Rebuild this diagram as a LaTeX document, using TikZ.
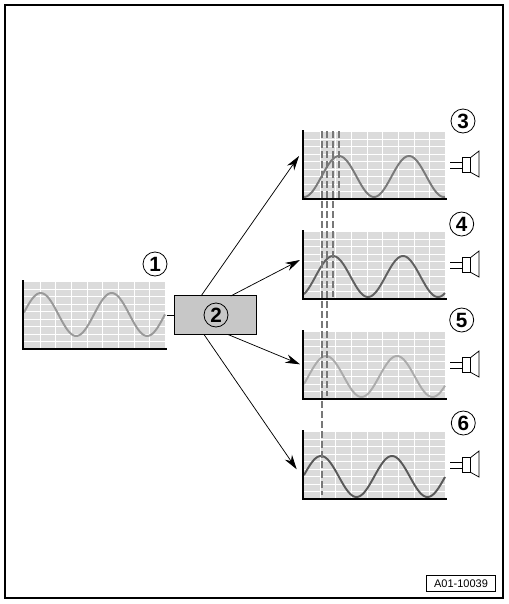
\documentclass[tikz,border=0pt]{standalone}
\usepackage{fontspec}
\setmainfont{Liberation Sans}
\usetikzlibrary{arrows.meta}
\definecolor{gridgray}{gray}{0.86}
\definecolor{boxgray}{gray}{0.78}
\definecolor{dashgray}{gray}{0.47}
\tikzset{
  num/.style={draw, circle, line width=0.6pt, inner sep=0pt, minimum size=18pt, font=\bfseries\fontsize{15.5}{15.5}\selectfont},
  arr/.style={-{Stealth[length=11pt,width=6.5pt]}, line width=0.55pt},
  wave/.style={line width=1.45pt, line join=round},
  spk/.style={line width=0.55pt, line join=miter}
}
\begin{document}
\begin{tikzpicture}[x=0.75pt, y=-0.75pt]
  \useasboundingbox (0,0) rectangle (508,604);
  \draw[line width=1.5pt] (5,5) rectangle (503,598);

  % the five charts
  \foreach \ox/\oy/\peak/\per/\midy/\amp/\shade in {23/280/40.7/71/314.5/21.5/40, 303/130/339/70/176.5/20.5/52, 303/230/333/70/276.5/20.5/62, 303/330/326/71/376.5/20.5/33, 303/430/321/71/476.5/20.5/65} {
    \fill[gridgray] (\ox+1,\oy+2) rectangle (\ox+142,\oy+68);
    \foreach \k in {0,...,7} {
      \draw[white, line width=0.7pt] (\ox+17+15.7*\k,\oy+2) -- (\ox+17+15.7*\k,\oy+68);
      \draw[white, line width=0.7pt] (\ox+1,\oy+9.3+7.5*\k) -- (\ox+142,\oy+9.3+7.5*\k);
    }
    \draw[black!\shade, wave] plot[domain=\ox+1:\ox+142, samples=90, smooth] (\x,{\midy-\amp*cos(360/\per*(\x-\peak))});
    \draw[line width=1.5pt] (\ox,\oy) -- (\ox,\oy+69) -- (\ox+144,\oy+69);
  }

  % dashed marks
  \foreach \dx/\dy in {322/495, 326.7/396, 332.7/297, 339/199} {
    \draw[dashgray, line width=1.4pt, dash pattern=on 5.5pt off 2pt] (\dx,131) -- (\dx,\dy);
  }

  % speakers
  \foreach \sy in {165,265,365,465} {
    \draw[spk] (450,\sy-3) -- (462,\sy-3);
    \draw[spk] (450,\sy+3) -- (462,\sy+3);
    \draw[spk] (462,\sy-8) rectangle (470,\sy+7);
    \draw[spk] (470,\sy-7) -- (479,\sy-14) -- (479,\sy+12) -- (470,\sy+7);
  }

  \node[draw, fill=boxgray, line width=0.6pt, minimum width=61.8pt, minimum height=28.7pt, inner sep=0pt] (box) at (215.5,315) {};
  \node[num] (n1) at (155,264) {1};
  \node[num] (n2) at (216,315) {2};
  \node[num] (n3) at (463,121) {3};
  \node[num] (n4) at (461.7,224) {4};
  \node[num] (n5) at (461.7,320) {5};
  \node[num] (n6) at (463.3,423) {6};

  \coordinate (wave1) at (166.7,315);
  \coordinate (in3) at (299,156);
  \coordinate (in4) at (300,260);
  \coordinate (in5) at (300,364.3);
  \coordinate (in6) at (296.7,469.3);
  \coordinate (out3) at (201,296);
  \coordinate (out4) at (230.7,296);
  \coordinate (out5) at (228,334.5);
  \coordinate (out6) at (204,334.5);
  \draw[line width=0.55pt] (wave1) -- (box.west |- wave1);
  \draw[arr] (out3) -- (in3);
  \draw[arr] (out4) -- (in4);
  \draw[arr] (out5) -- (in5);
  \draw[arr] (out6) -- (in6);

  \node[draw, line width=0.5pt, minimum width=52pt, minimum height=12pt, inner sep=0pt, font=\fontsize{8.25}{9}\selectfont] (code) at (461,583.7) {A01-10039};
\end{tikzpicture}
\end{document}
